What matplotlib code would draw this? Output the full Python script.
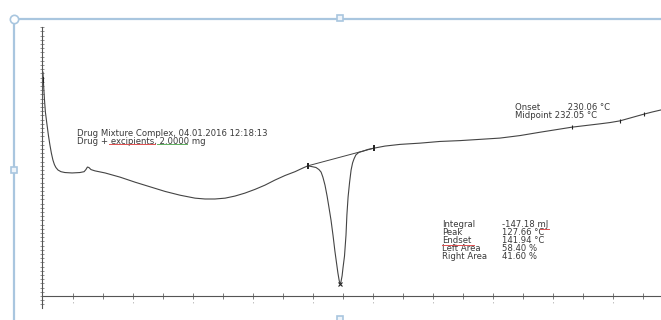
import numpy as np
import matplotlib
matplotlib.use("Agg")
import matplotlib.pyplot as plt
from matplotlib.lines import Line2D

plt.rcParams['font.family'] = ['DejaVu Sans']

# DSC curve (temperature in °C, heat flow in arbitrary mW)
temp = [30.0, 30.1, 30.3, 30.5, 30.8, 31.3, 31.8, 32.3, 32.8, 33.3, 33.8, 34.3,
        35.0, 36.0, 37.3, 39.7, 42.3, 43.7, 44.3, 44.8, 45.3, 46.0, 47.3, 50.7,
        55.7, 60.7, 65.7, 70.7, 75.7, 80.7, 84.0, 87.3, 90.7, 94.0, 97.3, 100.7,
        104.0, 107.3, 110.7, 114.0, 116.7, 118.3, 119.7, 121.0, 122.0, 122.7,
        123.3, 124.0, 124.7, 125.3, 126.0, 126.7, 127.3, 127.8, 128.3, 128.7,
        129.0, 129.3, 129.7, 130.0, 130.5, 131.0, 131.3, 131.7, 132.2, 132.7,
        133.2, 133.7, 134.3, 135.3, 136.7, 138.3, 140.3, 144.0, 149.0, 155.7,
        162.3, 169.0, 175.7, 182.3, 189.0, 195.7, 201.0, 206.3, 211.0, 215.7,
        219.0, 222.3, 226.3, 230.3, 233.0, 236.0]
heat_flow = [5.33, 5.14, 4.90, 4.67, 4.38, 4.10, 3.83, 3.60, 3.40, 3.24, 3.13,
             3.06, 3.00, 2.96, 2.94, 2.93, 2.94, 2.96, 3.01, 3.07, 3.06, 3.01,
             2.98, 2.93, 2.83, 2.71, 2.60, 2.49, 2.40, 2.33, 2.31, 2.31, 2.33,
             2.38, 2.45, 2.54, 2.64, 2.76, 2.87, 2.96, 3.05, 3.10, 3.08, 3.06,
             3.01, 2.95, 2.83, 2.64, 2.38, 2.12, 1.81, 1.43, 1.07, 0.81, 0.55,
             0.38, 0.29, 0.33, 0.48, 0.67, 0.95, 1.45, 1.93, 2.36, 2.71, 3.00,
             3.17, 3.27, 3.36, 3.42, 3.45, 3.49, 3.52, 3.57, 3.61, 3.64, 3.68,
             3.70, 3.73, 3.76, 3.82, 3.90, 3.96, 4.02, 4.06, 4.10, 4.13, 4.17,
             4.25, 4.33, 4.38, 4.43]

# integration limits (baseline end points) and other markers
base_t = [118.3, 140.3]
base_hf = [3.10, 3.52]
peak_t, peak_hf = 129.0, 0.29
tg_marks_t = [206.3, 222.3, 230.3]
tg_marks_hf = [4.02, 4.17, 4.33]

sample_text = ["Drug Mixture Complex, 04.01.2016 12:18:13",
               "Drug + excipients, 2.0000 mg"]
tg_text = ["Onset" + " " * 10 + "230.06 °C", "Midpoint 232.05 °C"]
peak_labels = ["Integral", "Peak", "Endset", "Left Area", "Right Area"]
peak_values = ["-147.18 mJ", "127.66 °C", "141.94 °C", "58.40 %", "41.60 %"]

fig = plt.figure(figsize=(6.61, 3.2), dpi=100)
fig.patch.set_facecolor("white")
ax = fig.add_axes([42 / 661, 0.0, 619 / 661, 293 / 320])
ax.set_xlim(29.67, 236.0)
ax.set_ylim(-0.571, 6.405)

line_col = "#444444"
ax.plot(temp, heat_flow, color=line_col, lw=0.8, solid_joinstyle="round")
ax.plot(base_t, base_hf, color=line_col, lw=0.7)
ax.plot(base_t, base_hf, ls="none", marker="|", ms=5, mew=1.4, color="#222222")
ax.plot(peak_t, peak_hf, ls="none", marker="x", ms=2.5, mew=0.8, color="#222222")
ax.plot(tg_marks_t, tg_marks_hf, ls="none", marker="|", ms=3, mew=0.8, color="#222222")
ax.plot(temp[1], heat_flow[1], ls="none", marker="|", ms=5, mew=1.5, color="#222222")

# axes look of the instrument software
for s in ["top", "right"]:
    ax.spines[s].set_visible(False)
ax.spines["bottom"].set_position(("data", 0))
ax.spines["left"].set_bounds(-0.29, 6.405)
for s in ["bottom", "left"]:
    ax.spines[s].set_color("#555555")
    ax.spines[s].set_linewidth(0.8)

xt = np.arange(40, 231, 10)
ax.set_xticks(xt)
ax.set_xticklabels(["'" if (t // 10) % 2 == 0 and t <= 220 else "" for t in xt],
                   fontsize=4, color="#888888")
ax.tick_params(axis="x", direction="inout", length=4, width=0.6, color="#666666", pad=2)
ax.set_yticks(np.arange(-0.2, 6.41, 0.1))
ax.set_yticklabels([])
ax.tick_params(axis="y", direction="inout", length=3, width=0.5, color="#666666")

txt = dict(fontsize=6.1, color="#3a3a3a", va="top", linespacing=0.86)
ax.text(41.3, 3.98, "\n".join(sample_text), **txt)
ax.text(187.3, 4.59, "\n".join(tg_text), **txt)
ax.text(163.0, 1.80, "\n".join(peak_labels), **txt)
ax.text(183.0, 1.80, "\n".join(peak_values), **txt)

# spell-check squiggles from the word processor
sq = dict(lw=0.7, transform=fig.transFigure)
def px(x, y):
    return x / 661, 1 - y / 320
for (x0, x1, y, c) in [(109, 155, 143.5, "#e05050"), (157, 187, 143.5, "#60b060"),
                       (540, 549, 229, "#e05050"), (442, 474, 244.5, "#e05050")]:
    (a, b), (c2, d) = px(x0, y), px(x1, y)
    fig.add_artist(Line2D([a, c2], [b, d], color=c, **sq))

# document selection frame
blue = "#a9c6df"
fig.add_artist(Line2D([14 / 661, 1], [1 - 19 / 320] * 2, color=blue, lw=1.6,
                      transform=fig.transFigure))
fig.add_artist(Line2D([14 / 661] * 2, [0, 1 - 19 / 320], color=blue, lw=1.6,
                      transform=fig.transFigure))
fig.add_artist(Line2D([14 / 661], [1 - 19 / 320], marker="o", ms=6, mfc="white",
                      mec=blue, mew=1.2, transform=fig.transFigure))
for (hx, hy) in [(340, 18), (14, 170), (340, 319)]:
    fig.add_artist(Line2D([hx / 661], [1 - hy / 320], marker="s", ms=5, mfc="#eef4fa",
                          mec=blue, mew=1.2, transform=fig.transFigure))

fig.savefig("out.png", dpi=100)
